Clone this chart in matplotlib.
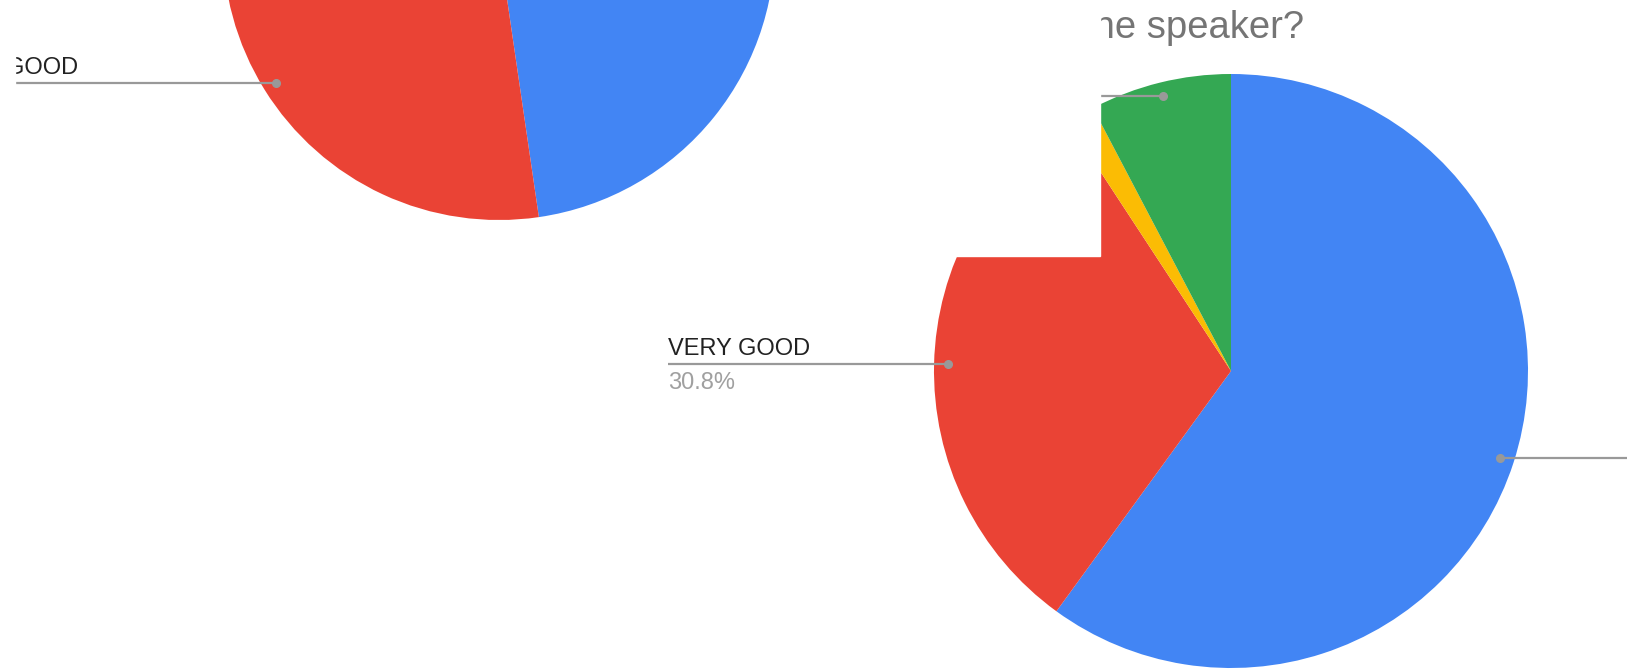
import numpy as np
import matplotlib.pyplot as plt
from matplotlib.patches import Rectangle

plt.rcParams['font.family'] = ['Liberation Sans', 'DejaVu Sans']

# slice order as Google Sheets draws it: clockwise from 12 o'clock
categories = ["EXCELLENT", "VERY GOOD", "GOOD", "FAIR"]
colors = ["#4285F4", "#EA4335", "#FBBC04", "#34A853"]
left_counts = [31, 24, 3, 7]
right_counts = [39, 20, 1, 5]
right_title = "the speaker?"

W, H = 1636, 670
fig = plt.figure(figsize=(W / 100, H / 100), dpi=100)
ax = fig.add_axes([0, 0, 1, 1])
ax.set_xlim(0, W)
ax.set_ylim(H, 0)

LINE_C = "#999999"


def draw_pie(counts, center, radius):
    # y axis is flipped, so counterclock in data = clockwise on screen
    wedges, _ = ax.pie(counts, colors=colors, center=center, radius=radius,
                       startangle=270, counterclock=True,
                       wedgeprops=dict(linewidth=0, antialiased=True))
    ax.set_xlim(0, W)
    ax.set_ylim(H, 0)
    return wedges


def anchor(wedge, center, radius):
    mid = np.deg2rad((wedge.theta1 + wedge.theta2) / 2)
    r = 0.953 * radius
    return center[0] + r * np.cos(mid), center[1] + r * np.sin(mid)


def leader(wedge, center, radius, x_end):
    x, y = anchor(wedge, center, radius)
    ax.plot([x, x_end], [y, y], color=LINE_C, lw=1.6, zorder=3,
            solid_capstyle="butt")
    ax.plot([x], [y], "o", color=LINE_C, ms=5.5, zorder=4)
    return y


def label(x, y, name, share, ha="left"):
    t = ax.text(x, y - 9, name, fontsize=17, color="#222222",
                va="baseline", ha=ha, zorder=5)
    # percent always sits under the start of the name
    bb = t.get_window_extent(renderer=fig.canvas.get_renderer())
    x0 = ax.transData.inverted().transform((bb.x0, bb.y0))[0]
    ax.text(x0, y + 25, "{:.1f}%".format(share), fontsize=17,
            color="#a0a0a0", va="baseline", ha="left", zorder=5)


# left chart (mostly cut off at the top)
lc, lr = (499, -56), 276
lw_ = draw_pie(left_counts, lc, lr)
ly = leader(lw_[1], lc, lr, -70)
label(78, ly, categories[1], 100 * left_counts[1] / sum(left_counts),
      ha="right")

# right chart
rc, rr = (1231, 371), 297
rw = draw_pie(right_counts, rc, rr)
ry = leader(rw[1], rc, rr, 668)
label(668, ry, categories[1], 100 * right_counts[1] / sum(right_counts))
leader(rw[0], rc, rr, 1627)
leader(rw[3], rc, rr, 960)

ax.text(1304, 38, right_title, fontsize=27.5, color="#757575",
        ha="right", va="baseline", zorder=5)

# white panels that overlap the screenshot
ax.add_patch(Rectangle((790, -10), 1100 - 790, 256 + 10, color="white",
                       zorder=10))
ax.add_patch(Rectangle((-10, -10), 25, 160, color="white", zorder=10))

ax.set_aspect("auto")
ax.axis("off")

fig.savefig("out.png", dpi=100)
